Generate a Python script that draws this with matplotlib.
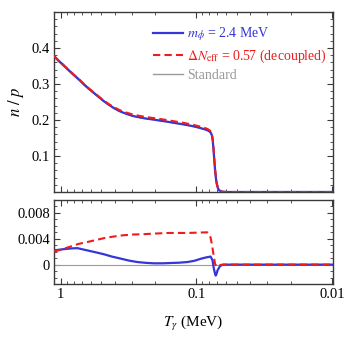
import matplotlib
matplotlib.use('Agg')
import matplotlib.pyplot as plt
from matplotlib.ticker import MultipleLocator, LogLocator, NullFormatter, FixedLocator

plt.rcParams['font.family'] = ['Liberation Serif', 'DejaVu Serif']
plt.rcParams['mathtext.fontset'] = 'stix'

# photon temperature (MeV) for the n/p curves
T_top = [1.12, 1.03, 0.945, 0.87, 0.798, 0.73, 0.673, 0.62, 0.568, 0.52,
         0.479, 0.44, 0.404, 0.37, 0.335, 0.31, 0.288, 0.26, 0.235, 0.21,
         0.19, 0.165, 0.143, 0.125, 0.108, 0.096, 0.0861, 0.0815, 0.0785,
         0.0768, 0.0757, 0.0748, 0.0737, 0.0727, 0.0716, 0.0707, 0.0693,
         0.068, 0.065, 0.06, 0.03, 0.0099]
np_mphi = [0.378, 0.364, 0.351, 0.338, 0.325, 0.312, 0.299, 0.287, 0.275,
           0.263, 0.252, 0.242, 0.233, 0.225, 0.2185, 0.214, 0.2105, 0.207,
           0.204, 0.2015, 0.199, 0.1955, 0.1915, 0.188, 0.1835, 0.179, 0.174,
           0.1705, 0.166, 0.158, 0.144, 0.122, 0.090, 0.060, 0.037, 0.023,
           0.011, 0.005, 0.001, 0.0, 0.0, 0.0]
np_neff = [0.3775, 0.364, 0.3513, 0.3385, 0.3255, 0.3126, 0.2997, 0.2878,
           0.276, 0.2643, 0.2535, 0.2438, 0.2355, 0.228, 0.2218, 0.2178,
           0.2145, 0.2112, 0.2082, 0.2058, 0.2034, 0.1999, 0.1959, 0.1922,
           0.1875, 0.1828, 0.1777, 0.1738, 0.169, 0.1615, 0.149, 0.128,
           0.095, 0.064, 0.040, 0.025, 0.012, 0.0055, 0.001, 0.0, 0.0, 0.0]
np_standard = [0.3758, 0.3616, 0.3484, 0.3355, 0.3226, 0.3095, 0.2965,
               0.2848, 0.2732, 0.2614, 0.2506, 0.241, 0.2318, 0.2242, 0.2179,
               0.2135, 0.2101, 0.2068, 0.2038, 0.2013, 0.1988, 0.1953,
               0.1912, 0.1876, 0.183, 0.1783, 0.1731, 0.1694, 0.1648, 0.157,
               0.144, 0.123, 0.091, 0.0615, 0.038, 0.0235, 0.0112, 0.005,
               0.001, 0.0, 0.0, 0.0]

# differences relative to the standard case
T_blue = [1.12, 0.945, 0.844, 0.754, 0.636, 0.55, 0.479, 0.42, 0.361, 0.31,
          0.272, 0.235, 0.205, 0.178, 0.154, 0.133, 0.116, 0.103, 0.0928,
          0.0852, 0.0805, 0.0785, 0.076, 0.0741, 0.0727, 0.0719, 0.0708,
          0.0698, 0.0667, 0.0632, 0.04, 0.0099]
d_blue = [0.0022, 0.0024, 0.0025, 0.00255, 0.0022, 0.0019, 0.0016, 0.00125,
          0.00093, 0.0006, 0.0004, 0.00027, 0.0002, 0.0002, 0.00025, 0.0003,
          0.0004, 0.0006, 0.0009, 0.0011, 0.0012, 0.00125, 0.0007, -0.0007,
          -0.0014, -0.0017, -0.0014, -0.0009, -0.0002, 0.0, 0.0, 0.0]
T_red = [1.12, 0.97, 0.844, 0.74, 0.636, 0.55, 0.479, 0.42, 0.361, 0.3,
         0.25, 0.205, 0.16, 0.116, 0.0829, 0.0805, 0.0785, 0.0768, 0.0748,
         0.0727, 0.0706, 0.0667, 0.0632, 0.04, 0.0099]
d_red = [0.002, 0.0024, 0.0028, 0.0032, 0.0035, 0.0038, 0.0041, 0.0043,
         0.0045, 0.00465, 0.0047, 0.0048, 0.0049, 0.0049, 0.005, 0.0047,
         0.0042, 0.0032, 0.0017, 0.0001, -0.0003, -0.00005, 0.0, 0.0, 0.0]
T_zero = [1.12, 0.0099]
d_zero = [0.0, 0.0]

BLUE = '#3535d8'
RED = '#ee1c1c'
GRAY = '#9a9a9a'
FRAME = '#3a3a3a'

fig = plt.figure(figsize=(3.49, 3.43), dpi=100)
W, H = 349.0, 343.0
ax1 = fig.add_axes([54 / W, (H - 192) / H, 278.5 / W, 180 / H])
ax2 = fig.add_axes([54 / W, (H - 284) / H, 278.5 / W, 84 / H])

ax1.plot(T_top, np_standard, color=GRAY, lw=1.0, label='Standard', zorder=2)
ax1.plot(T_top, np_mphi, color=BLUE, lw=1.6, label=r'$m_\phi$ = 2.4 MeV', zorder=3)
ax1.plot(T_top, np_neff, color=RED, lw=1.5, ls=(0, (3.5, 2.0)),
         label=r'$\Delta N_{\rm eff}$ = 0.57 (decoupled)', zorder=4)

ax2.plot(T_zero, d_zero, color=GRAY, lw=0.8, zorder=2)
ax2.plot(T_blue, d_blue, color=BLUE, lw=1.6, zorder=3)
ax2.plot(T_red, d_red, color=RED, lw=1.5, ls=(0, (3.5, 2.0)), zorder=4)

for ax in (ax1, ax2):
    ax.set_xscale('log')
    ax.set_xlim(1.12, 0.0099)
    ax.xaxis.set_major_locator(FixedLocator([1, 0.1, 0.01]))
    ax.xaxis.set_minor_locator(LogLocator(base=10, subs=range(2, 10), numticks=20))
    ax.xaxis.set_minor_formatter(NullFormatter())
    ax.tick_params(which='both', direction='in', top=True, right=True,
                   color=FRAME, labelsize=10.5, pad=3)
    ax.tick_params(which='major', length=4.5, width=0.8)
    ax.tick_params(which='minor', length=2.5, width=0.6)
    for sp in ax.spines.values():
        sp.set_color(FRAME)
        sp.set_linewidth(1.0)

ax1.set_ylim(0, 0.5)
ax1.yaxis.set_major_locator(FixedLocator([0.1, 0.2, 0.3, 0.4]))
ax1.yaxis.set_minor_locator(MultipleLocator(0.02))
ax1.set_yticklabels(['0.1', '0.2', '0.3', '0.4'])
ax1.tick_params(axis='x', labelbottom=False)
ax1.set_ylabel(r'$n\ /\ p$', fontsize=12, labelpad=4)

ax2.set_ylim(-0.003, 0.010)
ax2.yaxis.set_major_locator(FixedLocator([0, 0.004, 0.008]))
ax2.yaxis.set_minor_locator(MultipleLocator(0.001))
ax2.set_yticklabels(['0', '0.004', '0.008'])
ax2.set_xticklabels(['1', '0.1', '0.01'])
ax2.set_xlabel(r'$T_\gamma$ (MeV)', fontsize=11, labelpad=9)

handles, labels = ax1.get_legend_handles_labels()
order = [1, 2, 0]
leg = ax1.legend([handles[i] for i in order], [labels[i] for i in order],
                 loc='upper left', bbox_to_anchor=(0.357, 0.925), frameon=False,
                 fontsize=10, handlelength=2.1, handletextpad=0.35,
                 labelspacing=0.3, borderaxespad=0.0, borderpad=0.0)
for txt, col in zip(leg.get_texts(), [BLUE, RED, GRAY]):
    txt.set_color(col)

fig.savefig('out.png', dpi=100)
